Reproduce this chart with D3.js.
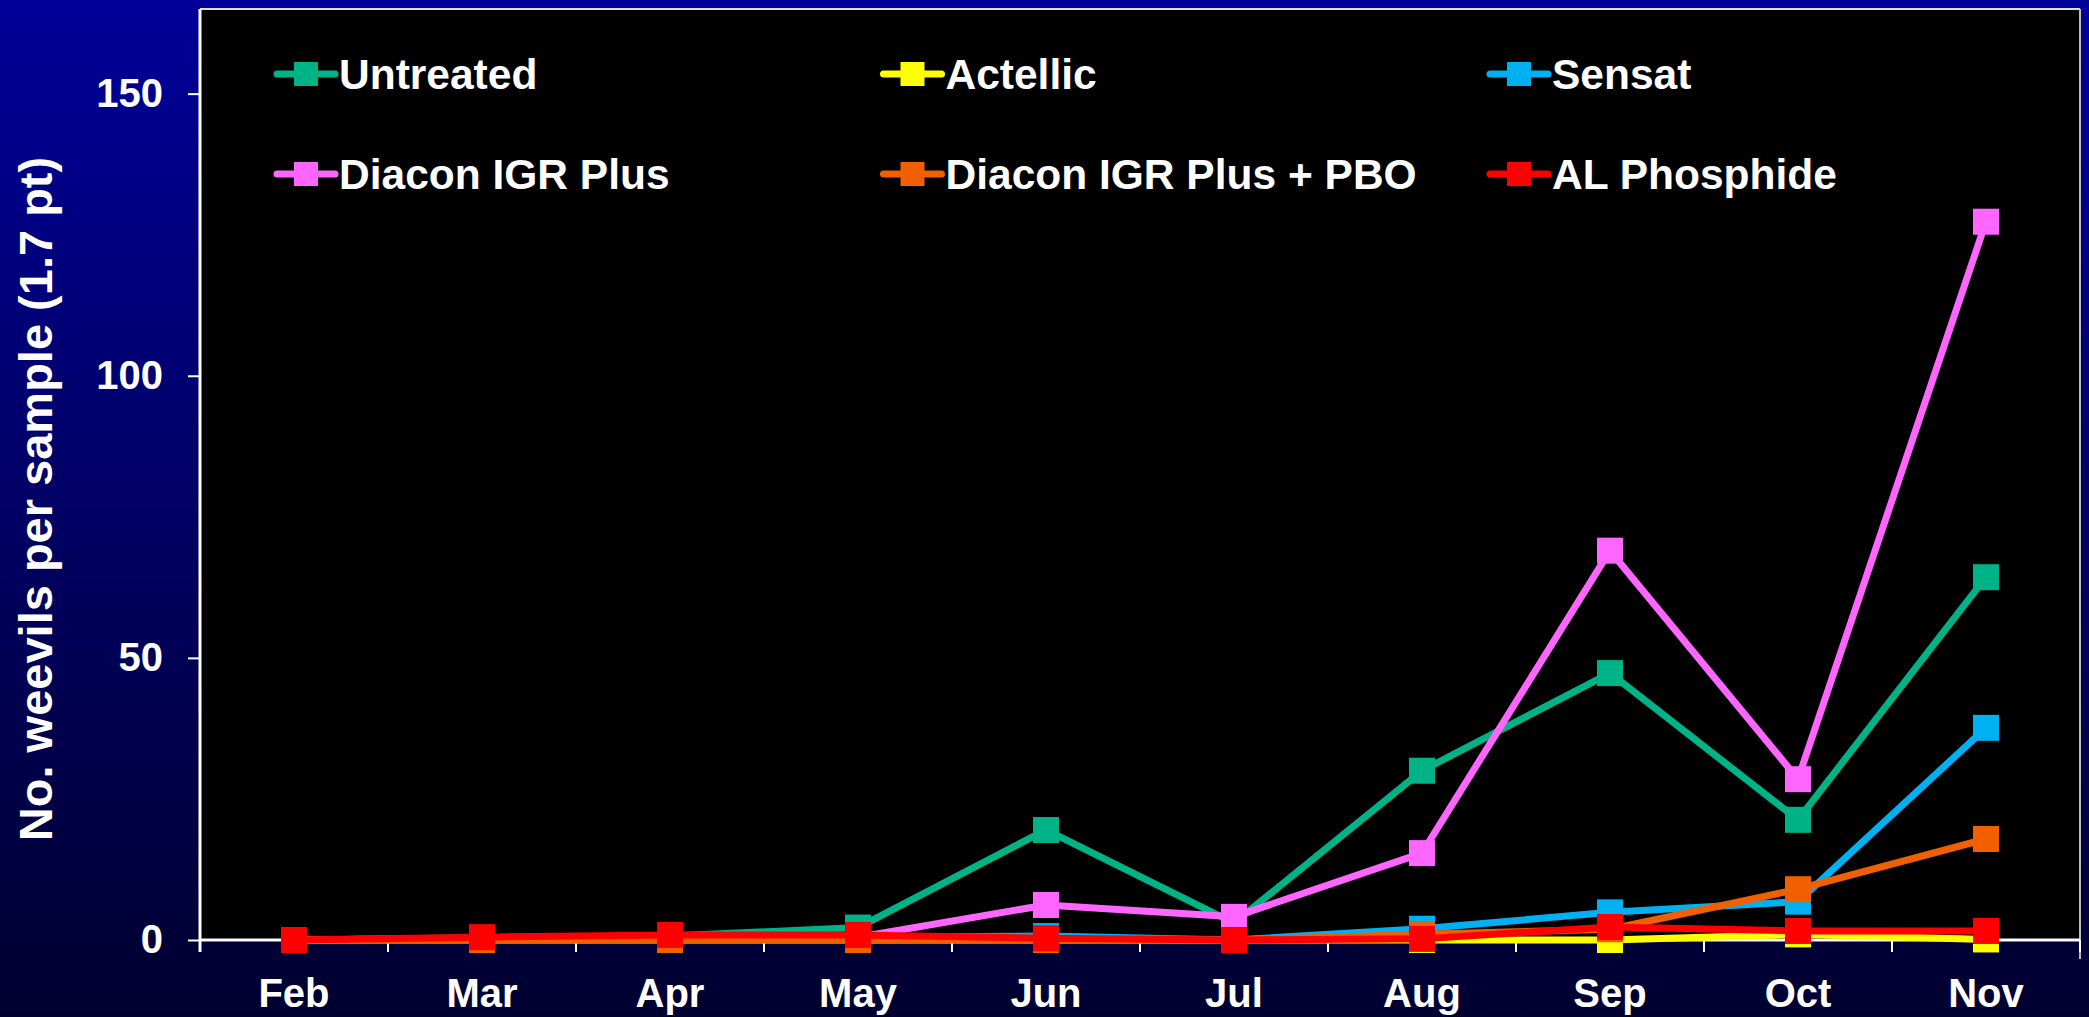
<!DOCTYPE html>
<meta charset="utf-8">
<style>
body {
  margin: 0;
  background: #000;
  font-family: "Liberation Sans", Arial, sans-serif;
}
text {
  font-weight: bold;
  fill: #fff;
}
</style>
<body>
<script src="https://d3js.org/d3.v7.min.js"></script>
<script>
// months sampled
var months = ["Feb", "Mar", "Apr", "May", "Jun", "Jul", "Aug", "Sep", "Oct", "Nov"];

// weevils per sample
var untreated = [0, 0.4, 0.7, 2.2, 19.5, 3, 30, 47.3, 21.3, 64.3];
var actellic  = [0, 0, 0, 0, 0, 0, 0, 0, 1, 0.1];
var sensat    = [0, 0.3, 0.5, 0.5, 0.7, 0, 2, 4.9, 6.8, 37.6];
var diacon    = [0, 0.3, 0.5, 0.5, 6.2, 4.1, 15.4, 69, 28.5, 127.3];
var diaconPbo = [0, 0, 0, 0, 0, 0, 1, 1.9, 9, 17.9];
var alPhos    = [0, 0.5, 0.9, 0.9, 0.3, 0, 0.2, 2.3, 1.6, 1.6];

var seriesNames = ["Untreated", "Actellic", "Sensat", "Diacon IGR Plus", "Diacon IGR Plus + PBO", "AL Phosphide"];
var seriesColors = ["#00b386", "#ffff00", "#00b0f0", "#ff66ff", "#f06000", "#ff0000"];
var seriesValues = [untreated, actellic, sensat, diacon, diaconPbo, alPhos];

var yTicks = [0, 50, 100, 150];

var W = 2089, H = 1017;
var margin = {top: 9, right: 9, bottom: 77, left: 200},
    width = W - margin.left - margin.right,
    height = H - margin.top - margin.bottom;

var svg = d3.select("body").append("svg")
    .attr("width", W)
    .attr("height", H);

var grad = svg.append("defs").append("linearGradient")
    .attr("id", "bg")
    .attr("x1", 0).attr("y1", 0).attr("x2", 0).attr("y2", 1);
grad.append("stop").attr("offset", "0%").attr("stop-color", "#000099");
grad.append("stop").attr("offset", "100%").attr("stop-color", "#000030");

svg.append("rect")
    .attr("width", W)
    .attr("height", H)
    .attr("fill", "url(#bg)");

var g = svg.append("g")
    .attr("transform", "translate(" + margin.left + "," + margin.top + ")");

var x = d3.scaleBand()
    .domain(months)
    .range([0, width])
    .padding(0);

var y = d3.scaleLinear()
    .domain([0, 165])
    .range([height, 0]);

function cx(i) { return x(months[i]) + x.bandwidth() / 2; }

// plot area
g.append("rect")
    .attr("width", width)
    .attr("height", height + 2)
    .attr("fill", "#000");

g.append("line")
    .attr("x1", 0).attr("x2", width)
    .attr("y1", 0).attr("y2", 0)
    .attr("stroke", "#ddd")
    .attr("stroke-width", 2);
g.append("line")
    .attr("x1", width).attr("x2", width)
    .attr("y1", 0).attr("y2", height + 19)
    .attr("stroke", "#bbb")
    .attr("stroke-width", 2);

// y axis
var yAxis = d3.axisLeft(y)
    .tickValues(yTicks)
    .tickSize(12)
    .tickPadding(25);

var ya = g.append("g").call(yAxis);
ya.select(".domain").attr("stroke", "#fff").attr("stroke-width", 3)
    .attr("d", "M0,0V" + (height + 12));
ya.selectAll(".tick line").attr("stroke", "#fff").attr("stroke-width", 2);
ya.selectAll(".tick text")
    .style("font-size", "40px")
    .style("font-weight", "bold")
    .attr("fill", "#fff");

// x axis
var xa = g.append("g")
    .attr("transform", "translate(0," + height + ")");
xa.append("line")
    .attr("x1", 0).attr("x2", width)
    .attr("stroke", "#fff")
    .attr("stroke-width", 3);
xa.selectAll(".xtick")
    .data(months.concat(["end"]))
  .enter().append("line")
    .attr("class", "xtick")
    .attr("x1", function(d, i) { return i * x.bandwidth(); })
    .attr("x2", function(d, i) { return i * x.bandwidth(); })
    .attr("y1", 0).attr("y2", 12)
    .attr("stroke", "#fff")
    .attr("stroke-width", 2);
xa.selectAll(".xlabel")
    .data(months)
  .enter().append("text")
    .attr("class", "xlabel")
    .attr("x", function(d, i) { return cx(i); })
    .attr("y", 67)
    .attr("text-anchor", "middle")
    .style("font-size", "40px")
    .text(function(d) { return d; });

// y title
svg.append("text")
    .attr("transform", "translate(52,499) rotate(-90)")
    .attr("text-anchor", "middle")
    .style("font-size", "47px")
    .text("No. weevils per sample (1.7 pt)");

// lines and markers
var line = d3.line()
    .x(function(d, i) { return cx(i); })
    .y(function(d) { return y(d); });

var ms = 26;
seriesValues.forEach(function(vals, k) {
  var sg = g.append("g");
  sg.append("path")
      .datum(vals)
      .attr("d", line)
      .attr("fill", "none")
      .attr("stroke", seriesColors[k])
      .attr("stroke-width", 7)
      .attr("stroke-linejoin", "round");
  sg.selectAll("rect")
      .data(vals)
    .enter().append("rect")
      .attr("x", function(d, i) { return cx(i) - ms / 2; })
      .attr("y", function(d) { return y(d) - ms / 2; })
      .attr("width", ms)
      .attr("height", ms)
      .attr("fill", seriesColors[k]);
});

// legend
var legend = svg.selectAll(".legend")
    .data(seriesNames)
  .enter().append("g")
    .attr("class", "legend")
    .attr("transform", function(d, i) {
      return "translate(" + (277 + (i % 3) * 606.5) + "," + (74 + Math.floor(i / 3) * 100) + ")";
    });

legend.append("line")
    .attr("x1", 0).attr("x2", 58)
    .attr("stroke", function(d, i) { return seriesColors[i]; })
    .attr("stroke-width", 7)
    .attr("stroke-linecap", "round");
legend.append("rect")
    .attr("x", 17).attr("y", -12)
    .attr("width", 24).attr("height", 24)
    .attr("fill", function(d, i) { return seriesColors[i]; });
legend.append("text")
    .attr("x", 62)
    .attr("y", 15)
    .style("font-size", "42.5px")
    .text(function(d) { return d; });
</script>
</body>
